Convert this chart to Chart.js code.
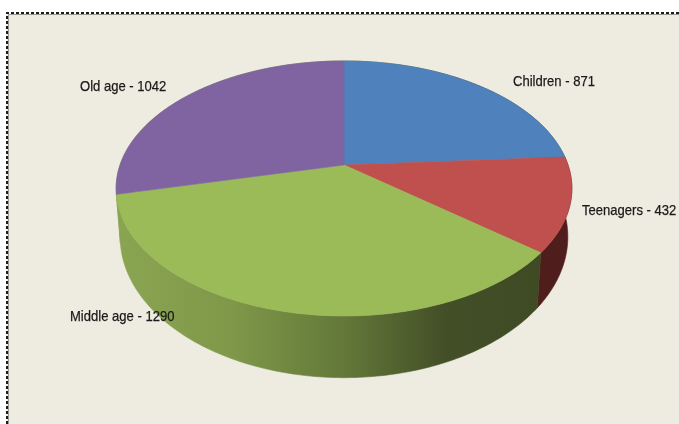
<!DOCTYPE html>
<html>
<head>
<meta charset="utf-8">
<style>
  html, body { margin: 0; padding: 0; background: #fff; }
  canvas { display: block; }
</style>
<script src="https://cdn.jsdelivr.net/npm/chart.js@4"></script>
</head>
<body>
<canvas id="pieChart" width="679" height="424"></canvas>
<script>
const categories = ['Children', 'Teenagers', 'Middle age', 'Old age'];
const counts = [871, 432, 1290, 1042];

const topColors = ['#4f81bd', '#c0504d', '#9bbb59', '#8064a2'];
const labelSpots = [[513, 82], [582, 211], [70, 317], [80, 87]];

// perspective of the tilted disc, fitted to the reference
const tilt = -0.184;
const topFace = { cy: 165, rx: 224, ry: 123.2 };
const bottomFace = { cy: 211, rx: 220, ry: 136 };
const centerX = 344;

function project(face, angle) {
    const d = 1 + tilt * Math.sin(angle);
    return [centerX + face.rx * Math.cos(angle) / d, face.cy + face.ry * Math.sin(angle) / d];
}

function traceArc(ctx, face, from, to, first) {
    const steps = Math.max(2, Math.ceil(Math.abs(to - from) * 60));
    for (let i = 0; i <= steps; i++) {
        const p = project(face, from + (to - from) * i / steps);
        if (i === 0 && first) ctx.moveTo(p[0], p[1]);
        else ctx.lineTo(p[0], p[1]);
    }
}

function wallFill(ctx, index) {
    const g = ctx.createLinearGradient(116, 0, 572, 0);
    if (index === 1) {
        g.addColorStop(0, '#4f1d1c');
        g.addColorStop(1, '#4f1d1c');
    } else {
        g.addColorStop(0, '#8aa552');
        g.addColorStop(0.25, '#7f9849');
        g.addColorStop(0.5, '#637839');
        g.addColorStop(0.72, '#434f27');
        g.addColorStop(1, '#3d4922');
    }
    return g;
}

const pie3d = {
    id: 'pie3d',
    beforeDraw(chart) {
        const ctx = chart.ctx;
        ctx.save();
        ctx.fillStyle = '#fff';
        ctx.fillRect(0, 0, 679, 424);
        ctx.fillStyle = '#eeebe0';
        ctx.fillRect(7, 14, 672, 410);
        // grey line under the dashed frame
        ctx.strokeStyle = '#9a9a92';
        ctx.lineWidth = 1;
        ctx.beginPath();
        ctx.moveTo(8.5, 424);
        ctx.lineTo(8.5, 14.5);
        ctx.lineTo(679, 14.5);
        ctx.stroke();
        ctx.strokeStyle = '#1c1c1c';
        ctx.lineWidth = 2;
        ctx.setLineDash([3, 2]);
        ctx.beginPath();
        ctx.moveTo(7, 424);
        ctx.lineTo(7, 13);
        ctx.lineTo(679, 13);
        ctx.stroke();
        ctx.restore();
    },
    beforeDatasetDraw(chart) {
        const ctx = chart.ctx;
        const arcs = chart.getDatasetMeta(0).data;
        ctx.save();
        ctx.lineWidth = 0.6;
        // side walls first, the top face covers whatever is behind it
        arcs.forEach((arc, i) => {
            ctx.beginPath();
            traceArc(ctx, topFace, arc.startAngle, arc.endAngle, true);
            traceArc(ctx, bottomFace, arc.endAngle, arc.startAngle, false);
            ctx.closePath();
            ctx.fillStyle = ctx.strokeStyle = wallFill(ctx, i);
            ctx.fill();
            ctx.stroke();
        });
        arcs.forEach((arc) => {
            ctx.beginPath();
            ctx.moveTo(centerX, topFace.cy);
            traceArc(ctx, topFace, arc.startAngle, arc.endAngle, false);
            ctx.closePath();
            ctx.fillStyle = ctx.strokeStyle = arc.options.backgroundColor;
            ctx.fill();
            ctx.stroke();
        });
        ctx.restore();
        return false;
    },
    afterDraw(chart) {
        const ctx = chart.ctx;
        ctx.save();
        ctx.font = '15px "Liberation Sans", sans-serif';
        ctx.fillStyle = '#1a1a1a';
        ctx.strokeStyle = '#1a1a1a';
        ctx.lineWidth = 0.25;
        ctx.textBaseline = 'middle';
        ctx.filter = 'blur(0.35px)';
        categories.forEach((name, i) => {
            // the original labels are set in a condensed face
            ctx.save();
            ctx.translate(labelSpots[i][0], labelSpots[i][1]);
            ctx.scale(0.87, 1);
            ctx.fillText(name + ' - ' + counts[i], 0, 0);
            ctx.strokeText(name + ' - ' + counts[i], 0, 0);
            ctx.restore();
        });
        ctx.restore();
    }
};

new Chart(document.getElementById('pieChart'), {
    type: 'pie',
    data: {
        labels: categories,
        datasets: [{
            data: counts,
            backgroundColor: topColors,
            borderWidth: 0
        }]
    },
    options: {
        responsive: false,
        animation: false,
        plugins: {
            legend: { display: false },
            tooltip: { enabled: false }
        }
    },
    plugins: [pie3d]
});
</script>
</body>
</html>
